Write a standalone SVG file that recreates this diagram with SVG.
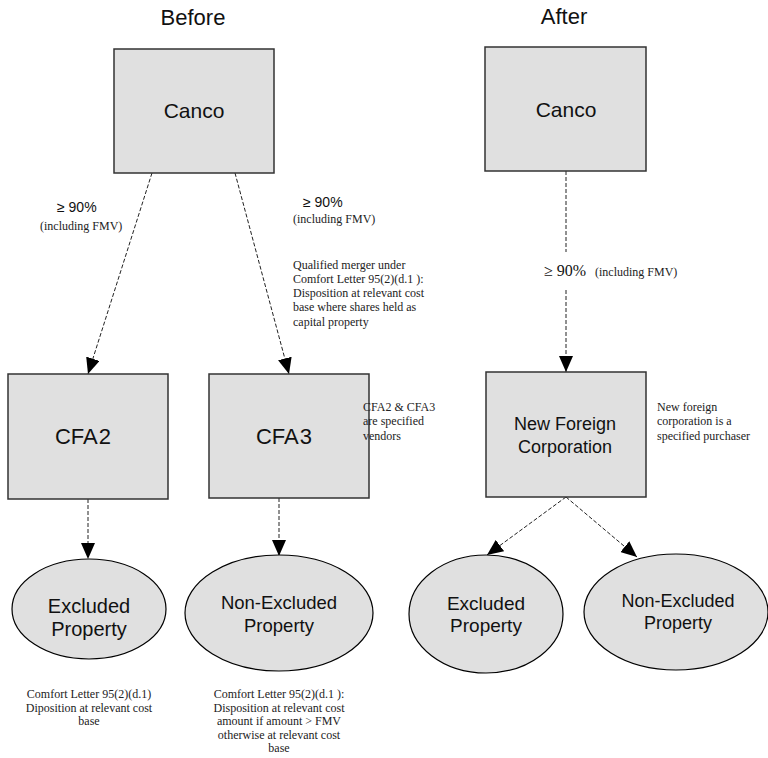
<svg xmlns="http://www.w3.org/2000/svg" width="768" height="758" viewBox="0 0 768 758">
<style>
.box{fill:#e0e0e0;stroke:#333;stroke-width:1.5}
.ell{fill:#e0e0e0;stroke:#000;stroke-width:1.2}
.lbl{font-family:"Liberation Sans",Arial,sans-serif;fill:#111;text-anchor:middle}
.title{font-family:"Liberation Sans",Arial,sans-serif;font-size:22px;fill:#111;text-anchor:middle}
.note{font-family:"Liberation Serif","Times New Roman",serif;font-size:12px;fill:#222}
.mid{text-anchor:middle}
.edge{fill:none;stroke:#222;stroke-width:1;stroke-dasharray:4 2}
</style>
<defs>
<marker id="ah" viewBox="0 0 16 14" refX="16" refY="7" markerWidth="16" markerHeight="14" markerUnits="userSpaceOnUse" orient="auto">
<path d="M0,0 L16,7 L0,14 Z" fill="#000"/>
</marker>
</defs>
<text class="title" x="193" y="25">Before</text>
<text class="title" x="564" y="24">After</text>

<g id="edges">
<line class="edge" x1="152" y1="173" x2="88" y2="374" marker-end="url(#ah)"/>
<line class="edge" x1="235" y1="173" x2="289" y2="374" marker-end="url(#ah)"/>
<line class="edge" x1="88" y1="499" x2="88" y2="559" marker-end="url(#ah)"/>
<line class="edge" x1="279" y1="498" x2="279" y2="556" marker-end="url(#ah)"/>
<line class="edge" x1="566" y1="171" x2="566" y2="252"/>
<line class="edge" x1="566" y1="290" x2="566" y2="372" marker-end="url(#ah)"/>
<line class="edge" x1="566" y1="497" x2="487" y2="555" marker-end="url(#ah)"/>
<line class="edge" x1="566" y1="497" x2="637" y2="557" marker-end="url(#ah)"/>
</g>

<g id="canco-before">
<rect class="box" x="114" y="49" width="160" height="124"/>
<text class="lbl" x="194" y="118" font-size="21">Canco</text>
</g>
<g id="canco-after">
<rect class="box" x="485" y="47" width="161" height="124"/>
<text class="lbl" x="566" y="117" font-size="21">Canco</text>
</g>
<g id="cfa2">
<rect class="box" x="8" y="374" width="160" height="125"/>
<text class="lbl" x="83" y="444" font-size="22">CFA<tspan dx="1">2</tspan></text>
</g>
<g id="cfa3">
<rect class="box" x="209" y="374" width="160" height="124"/>
<text class="lbl" x="284" y="444" font-size="22">CFA<tspan dx="1">3</tspan></text>
</g>
<g id="nfc">
<rect class="box" x="486" y="372" width="160" height="125"/>
<text class="lbl" x="565" y="430" font-size="18">New Foreign</text>
<text class="lbl" x="565" y="453" font-size="18">Corporation</text>
</g>
<g id="excluded-before">
<ellipse class="ell" cx="89" cy="609" rx="77" ry="50"/>
<text class="lbl" x="89" y="613" font-size="20">Excluded</text>
<text class="lbl" x="89" y="636" font-size="20">Property</text>
</g>
<g id="nonexcluded-before">
<ellipse class="ell" cx="279" cy="613" rx="94" ry="58"/>
<text class="lbl" x="279" y="609" font-size="18.5">Non-Excluded</text>
<text class="lbl" x="279" y="632" font-size="18.5">Property</text>
</g>
<g id="excluded-after">
<ellipse class="ell" cx="486" cy="614" rx="77" ry="59"/>
<text class="lbl" x="486" y="610" font-size="19">Excluded</text>
<text class="lbl" x="486" y="632" font-size="19">Property</text>
</g>
<g id="nonexcluded-after">
<ellipse class="ell" cx="676" cy="612" rx="92" ry="58"/>
<text class="lbl" x="678" y="607" font-size="18">Non-Excluded</text>
<text class="lbl" x="678" y="629" font-size="18">Property</text>
</g>

<g id="labels">
<text x="57" y="212" font-family="Liberation Sans,Arial,sans-serif" font-size="14" fill="#111">≥ 90%</text>
<text class="note" x="40" y="230">(including FMV)</text>
<text x="303" y="207" font-family="Liberation Sans,Arial,sans-serif" font-size="14" fill="#111">≥ 90%</text>
<text class="note" x="293" y="223">(including FMV)</text>
<text class="note" x="293" y="269">Qualified merger under</text>
<text class="note" x="293" y="283">Comfort Letter 95(2)(d.1 ):</text>
<text class="note" x="293" y="297">Disposition at relevant cost</text>
<text class="note" x="293" y="311">base where shares held as</text>
<text class="note" x="293" y="326">capital property</text>
<text x="544" y="276" font-family="Liberation Serif,Times New Roman,serif" font-size="16" fill="#111">≥ 90%</text>
<text class="note" x="595" y="276">(including FMV)</text>
<text class="note" x="363" y="411">CFA2 &amp; CFA3</text>
<text class="note" x="363" y="425">are specified</text>
<text class="note" x="363" y="440">vendors</text>
<text class="note" x="657" y="411">New foreign</text>
<text class="note" x="657" y="425">corporation is a</text>
<text class="note" x="657" y="440">specified purchaser</text>
<text class="note mid" x="89" y="698">Comfort Letter 95(2)(d.1)</text>
<text class="note mid" x="89" y="711.5">Diposition at relevant cost</text>
<text class="note mid" x="89" y="725">base</text>
<text class="note mid" x="279" y="698">Comfort Letter 95(2)(d.1 ):</text>
<text class="note mid" x="279" y="711.5">Disposition at relevant cost</text>
<text class="note mid" x="279" y="725">amount if amount &gt;  FMV</text>
<text class="note mid" x="279" y="738.5">otherwise at relevant cost</text>
<text class="note mid" x="279" y="752">base</text>
</g>
</svg>
